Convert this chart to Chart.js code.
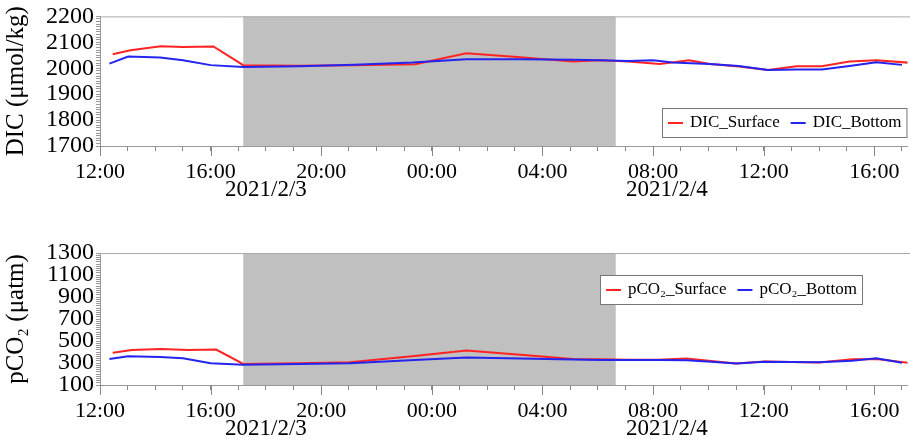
<!DOCTYPE html>
<html>
<head>
<meta charset="utf-8">
<script src="https://cdn.jsdelivr.net/npm/chart.js@4.4.0/dist/chart.umd.min.js"></script>
<style>
  body { margin: 0; background: #fff; }
  .panel { position: absolute; left: 0; width: 910px; height: 221px; }
</style>
</head>
<body>
<div class="panel" style="top:0"><canvas id="dicChart"></canvas></div>
<div class="panel" style="top:221px"><canvas id="pco2Chart"></canvas></div>
<script>
// time = hours after 2021/2/3 12:00
const dicSurfaceHours = [0.46, 1.1, 2.2, 3.0, 4.1, 5.18, 7.2, 9.2, 11.4, 13.25, 15.2, 17.1, 18.1, 19.1, 20.24, 21.3, 22.05, 23.1, 24.15, 25.18, 26.1, 27.1, 28.07, 29.3];
const dicSurface = [2054, 2069, 2085, 2082, 2084, 2012, 2010, 2012, 2015, 2058, 2042, 2026, 2031, 2026, 2016, 2031, 2016, 2007, 1993, 2008, 2008, 2026, 2031, 2021];
const dicBottomHours = [0.34, 1.02, 2.17, 3.0, 4.0, 5.18, 7.2, 9.2, 11.3, 13.25, 15.2, 17.1, 18.1, 19.1, 20.0, 20.7, 22.05, 23.1, 24.15, 25.18, 26.1, 27.1, 28.07, 29.0];
const dicBottom = [2018, 2045, 2041, 2031, 2012, 2005, 2008, 2013, 2022, 2035, 2035, 2033, 2031, 2028, 2031, 2022, 2016, 2009, 1993, 1995, 1995, 2009, 2023, 2013];

const pco2SurfaceHours = [0.46, 1.15, 2.2, 3.2, 4.2, 5.18, 7.2, 9.03, 11.2, 13.25, 15.2, 17.1, 18.1, 19.1, 20.2, 21.2, 22.1, 23.0, 24.03, 25.0, 26.0, 27.2, 28.07, 29.3];
const pco2Surface = [394, 419, 428, 419, 422, 291, 298, 307, 360, 413, 375, 337, 333, 330, 330, 340, 318, 295, 313, 310, 305, 334, 337, 300];
const pco2BottomHours = [0.34, 1.02, 2.17, 3.0, 4.0, 5.18, 7.2, 9.03, 11.2, 13.25, 15.2, 17.1, 18.1, 19.1, 20.2, 21.2, 22.1, 23.0, 24.03, 25.0, 26.0, 27.2, 28.07, 29.0];
const pco2Bottom = [337, 362, 355, 343, 298, 285, 292, 298, 325, 349, 340, 331, 328, 328, 328, 326, 312, 295, 312, 308, 307, 320, 343, 302];

// night period (grey band), date labels under the axis
const nightStart = 5.18, nightEnd = 18.65;
const dateLabels = ['2021/2/3', '2021/2/4'];
const dateHours = [6.0, 20.5];
const xMax = 29.2;

const FONT = "'Liberation Serif', 'Times New Roman', serif";
const RED = '#ff2424', BLUE = '#2424f0';

const pts = (hours, vals) => hours.map((h, i) => ({ x: h, y: vals[i] }));

const nightShade = {
  id: 'nightShade',
  beforeDatasetsDraw(chart) {
    const { ctx, chartArea: a, scales: { x } } = chart;
    const x0 = x.getPixelForValue(nightStart), x1 = x.getPixelForValue(nightEnd);
    ctx.save();
    ctx.fillStyle = '#c0c0c0';
    ctx.fillRect(x0, a.top, x1 - x0, a.bottom - a.top);
    ctx.restore();
  }
};

const frameAndDates = {
  id: 'frameAndDates',
  afterDraw(chart) {
    const { ctx, chartArea: a, scales: { x } } = chart;
    ctx.save();
    // top frame line
    ctx.strokeStyle = '#aaa';
    ctx.lineWidth = 1;
    ctx.beginPath();
    ctx.moveTo(a.left, a.top + 0.5);
    ctx.lineTo(chart.width, a.top + 0.5);
    ctx.stroke();
    // longer ticks at labelled hours
    ctx.strokeStyle = '#888';
    for (let v = 0; v <= xMax; v += 4) {
      const px = Math.round(x.getPixelForValue(v)) + 0.5;
      ctx.beginPath();
      ctx.moveTo(px, a.bottom);
      ctx.lineTo(px, a.bottom + 10);
      ctx.stroke();
    }
    ctx.fillStyle = '#000';
    ctx.font = '23px ' + FONT;
    ctx.textAlign = 'center';
    ctx.textBaseline = 'middle';
    dateLabels.forEach((t, i) => ctx.fillText(t, x.getPixelForValue(dateHours[i]), a.bottom + 44));
    ctx.restore();
  }
};

const boxLegend = {
  id: 'boxLegend',
  afterDraw(chart, args, opts) {
    const ctx = chart.ctx;
    const items = chart.data.datasets;
    const pad = 6, lineLen = 15, gap = 7, sep = 11, h = 29;
    ctx.save();
    ctx.font = '17px ' + FONT;
    let w = pad;
    items.forEach((d, i) => {
      w += lineLen + gap + ctx.measureText(d.label).width + (i < items.length - 1 ? sep : 5);
    });
    ctx.fillStyle = '#fff';
    ctx.fillRect(opts.x, opts.y, w, h);
    ctx.strokeStyle = '#777';
    ctx.lineWidth = 1;
    ctx.strokeRect(opts.x + 0.5, opts.y + 0.5, w, h);
    let cx = opts.x + pad;
    const cy = opts.y + h / 2 + 0.5;
    items.forEach(d => {
      ctx.strokeStyle = d.borderColor;
      ctx.lineWidth = 2;
      ctx.beginPath();
      ctx.moveTo(cx, cy);
      ctx.lineTo(cx + lineLen, cy);
      ctx.stroke();
      cx += lineLen + gap;
      ctx.fillStyle = '#000';
      ctx.textBaseline = 'middle';
      ctx.fillText(d.label, cx, cy);
      cx += ctx.measureText(d.label).width + sep;
    });
    ctx.restore();
  }
};

function makeChart(id, cfg) {
  return new Chart(document.getElementById(id), {
    type: 'line',
    data: {
      datasets: [
        { label: cfg.labels[0], data: cfg.surface, borderColor: RED, borderWidth: 2, order: 1 },
        { label: cfg.labels[1], data: cfg.bottom, borderColor: BLUE, borderWidth: 2, order: 0 }
      ]
    },
    options: {
      responsive: true,
      maintainAspectRatio: false,
      animation: false,
      devicePixelRatio: 1,
      layout: { padding: { top: cfg.top, right: 2, left: 0, bottom: 0 } },
      elements: { point: { radius: 0 }, line: { tension: 0 } },
      plugins: {
        legend: { display: false },
        tooltip: { enabled: false },
        boxLegend: cfg.legend
      },
      scales: {
        x: {
          type: 'linear',
          min: 0,
          max: xMax,
          border: { color: '#999' },
          grid: { drawOnChartArea: false, tickLength: 5, color: '#888' },
          ticks: {
            stepSize: 1,
            maxTicksLimit: 100,
            autoSkip: false,
            includeBounds: false,
            maxRotation: 0,
            padding: 8,
            color: '#000',
            font: { family: FONT, size: 22 },
            callback: v => v % 4 === 0 ? String((12 + v) % 24).padStart(2, '0') + ':00' : ''
          },
          afterFit: s => { s.height = cfg.xHeight; }
        },
        y: {
          min: cfg.yMin,
          max: cfg.yMax,
          border: { color: '#999' },
          grid: { drawOnChartArea: false, tickLength: 4, color: '#999' },
          ticks: {
            stepSize: cfg.minorStep,
            maxTicksLimit: 100,
            autoSkip: false,
            padding: 2,
            color: '#000',
            font: { family: FONT, size: 24 },
            callback: v => (v - cfg.yMin) % cfg.majorStep === 0 ? String(v) : ''
          },
          title: {
            display: true,
            text: cfg.title,
            color: '#000',
            font: { family: FONT, size: 25 },
            padding: { top: 1, bottom: 0 }
          },
          afterFit: s => { s.width = 100; }
        }
      }
    },
    plugins: [nightShade, frameAndDates, boxLegend]
  });
}

makeChart('dicChart', {
  labels: ['DIC_Surface', 'DIC_Bottom'],
  surface: pts(dicSurfaceHours, dicSurface),
  bottom: pts(dicBottomHours, dicBottom),
  title: 'DIC (μmol/kg)',
  yMin: 1700, yMax: 2200, minorStep: 10, majorStep: 100,
  top: 15, xHeight: 75,
  legend: { x: 662, y: 108 }
});

makeChart('pco2Chart', {
  labels: ['pCO₂_Surface', 'pCO₂_Bottom'],
  surface: pts(pco2SurfaceHours, pco2Surface),
  bottom: pts(pco2BottomHours, pco2Bottom),
  title: 'pCO₂ (μatm)',
  yMin: 100, yMax: 1300, minorStep: 20, majorStep: 200,
  top: 32, xHeight: 57,
  legend: { x: 600, y: 54 }
});
</script>
</body>
</html>
